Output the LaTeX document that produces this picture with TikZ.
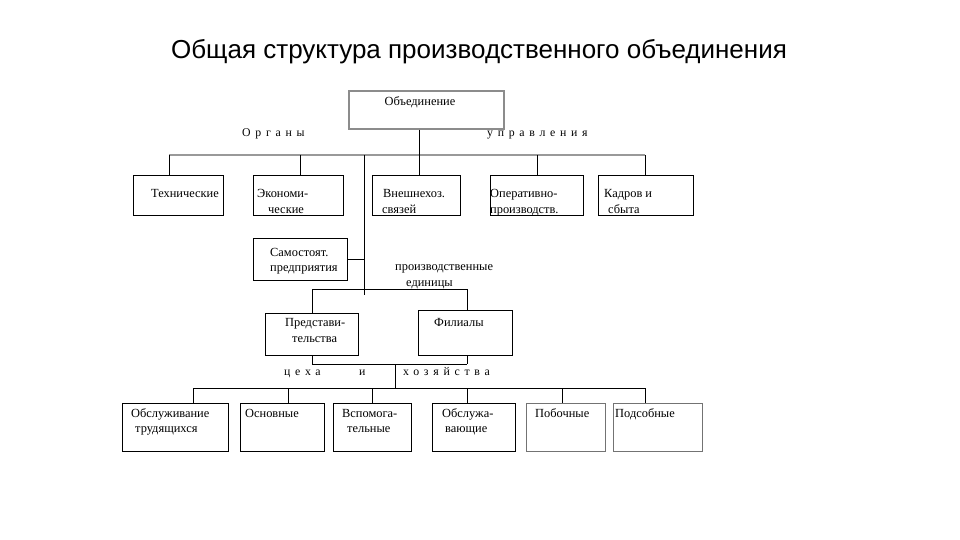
\documentclass[tikz,border=0pt]{standalone}
\usepackage{fontspec}
\setmainfont{Liberation Serif}
\newfontfamily\titlefont{Liberation Sans}
\newfontfamily\spacedfont[LetterSpace=40]{Liberation Serif}
\begin{document}
\begin{tikzpicture}[x=1pt,y=-1pt,
  box/.style={draw=black, line width=1pt, inner sep=0pt, anchor=north west},
  graybox/.style={box, draw=black!45, line width=1.6pt},
  txt/.style={anchor=base west, inner sep=0pt, font=\fontsize{12.4}{14}\selectfont},
  sp/.style={anchor=base west, inner sep=0pt, font=\spacedfont\fontsize{11.8}{13}\selectfont},
  ln/.style={draw=black, line width=1pt},
  grayln/.style={draw=black!40, line width=1.6pt}]
\useasboundingbox (0,0) rectangle (960,540);
\fill[white] (0,0) rectangle (960,540);

\node[font=\titlefont\fontsize{26}{30}\selectfont, inner sep=0pt] (title) at (479,52) {Общая структура производственного объединения};

% boxes
\node[graybox, minimum width=155pt, minimum height=38pt] (obj) at (348,90) {};
\node[box, minimum width=90pt, minimum height=40pt] (tech) at (133,175) {};
\node[box, minimum width=90pt, minimum height=40pt] (econ) at (253,175) {};
\node[box, minimum width=88pt, minimum height=40pt] (vnesh) at (372,175) {};
\node[box, minimum width=93pt, minimum height=40pt] (oper) at (490,175) {};
\node[box, minimum width=95pt, minimum height=40pt] (kadr) at (598,175) {};
\node[box, minimum width=94pt, minimum height=42pt] (samo) at (253,238) {};
\node[box, minimum width=93pt, minimum height=42pt] (pred) at (265,313) {};
\node[box, minimum width=94pt, minimum height=45pt] (fil) at (418,310) {};
\node[box, minimum width=106pt, minimum height=48pt] (obsl) at (122,403) {};
\node[box, minimum width=84pt, minimum height=48pt] (osn) at (240,403) {};
\node[box, minimum width=78pt, minimum height=48pt] (vsp) at (333,403) {};
\node[box, minimum width=83pt, minimum height=48pt] (obsz) at (432,403) {};
\node[box, draw=black!55, minimum width=79pt, minimum height=48pt] (pob) at (526,403) {};
\node[box, draw=black!55, minimum width=89pt, minimum height=48pt] (pods) at (613,403) {};

% texts
\node[txt, anchor=base] (t-obj) at (420,106) {Объединение};
\node[txt] (t-tech) at (151,197) {Технические};
\node[txt] (t-econ1) at (257,197) {Экономи-};
\node[txt] (t-econ2) at (268,213) {ческие};
\node[txt] (t-vn1) at (383,197) {Внешнехоз.};
\node[txt] (t-vn2) at (382,213) {связей};
\node[txt] (t-op1) at (490,197) {Оперативно-};
\node[txt] (t-op2) at (490,213) {производств.};
\node[txt] (t-ka1) at (604,197) {Кадров и};
\node[txt] (t-ka2) at (608,213) {сбыта};
\node[txt] (t-sa1) at (270,256) {Самостоят.};
\node[txt] (t-sa2) at (270,271) {предприятия};
\node[txt] (t-pe1) at (395,270) {производственные};
\node[txt] (t-pe2) at (406,286) {единицы};
\node[txt] (t-pr1) at (285,326) {Представи-};
\node[txt] (t-pr2) at (292,342) {тельства};
\node[txt] (t-fil) at (434,326) {Филиалы};
\node[txt] (t-ob1) at (131,417) {Обслуживание};
\node[txt] (t-ob2) at (135,432) {трудящихся};
\node[txt] (t-osn) at (245,417) {Основные};
\node[txt] (t-vs1) at (342,417) {Вспомога-};
\node[txt] (t-vs2) at (347,432) {тельные};
\node[txt] (t-oz1) at (442,417) {Обслужа-};
\node[txt] (t-oz2) at (445,432) {вающие};
\node[txt] (t-pob) at (535,417) {Побочные};
\node[txt] (t-pod) at (615,417) {Подсобные};

\node[sp] (l-org) at (242,137) {Органы};
\node[sp] (l-upr) at (487,137) {управления};
\node[sp] (l-ceh) at (284,375) {цеха};
\node[sp] (l-i) at (359,375) {и};
\node[sp] (l-hoz) at (403,375) {хозяйства};

% junction coordinates
\coordinate (b1a) at (169,155);
\coordinate (b1b) at (300,155);
\coordinate (b1c) at (419,155);
\coordinate (b1d) at (537,155);
\coordinate (b1e) at (645,155);
\coordinate (tr1) at (364,155);
\coordinate (tr2) at (364,295);
\coordinate (b2a) at (312,289);
\coordinate (b2b) at (467,289);
\coordinate (b3a) at (312,364);
\coordinate (b3b) at (467,364);
\coordinate (b3c) at (395,364);
\coordinate (b4c) at (395,388);
\coordinate (b4a) at (193,388);
\coordinate (b4b) at (288,388);
\coordinate (b4d) at (372,388);
\coordinate (b4e) at (467,388);
\coordinate (b4f) at (562,388);
\coordinate (b4g) at (645,388);

% connectors
\draw[grayln] (b1a) -- (b1e);
\draw[ln] (obj.south -| b1c) -- (b1c);
\draw[ln] (b1a) -- (b1a |- tech.north);
\draw[ln] (b1b) -- (b1b |- econ.north);
\draw[ln] (b1c) -- (b1c |- vnesh.north);
\draw[ln] (b1d) -- (b1d |- oper.north);
\draw[ln] (b1e) -- (b1e |- kadr.north);
\draw[ln] (tr1) -- (tr2);
\draw[ln] (samo.east) -- (samo.east -| tr1);
\draw[ln] (b2a) -- (b2b);
\draw[ln] (b2a) -- (b2a |- pred.north);
\draw[ln] (b2b) -- (b2b |- fil.north);
\draw[ln] (b3a) -- (b3b);
\draw[ln] (pred.south -| b3a) -- (b3a);
\draw[ln] (fil.south -| b3b) -- (b3b);
\draw[ln] (b3c) -- (b4c);
\draw[ln] (b4a) -- (b4g);
\draw[ln] (b4a) -- (b4a |- obsl.north);
\draw[ln] (b4b) -- (b4b |- osn.north);
\draw[ln] (b4d) -- (b4d |- vsp.north);
\draw[ln] (b4e) -- (b4e |- obsz.north);
\draw[ln] (b4f) -- (b4f |- pob.north);
\draw[ln] (b4g) -- (b4g |- pods.north);
\end{tikzpicture}
\end{document}
